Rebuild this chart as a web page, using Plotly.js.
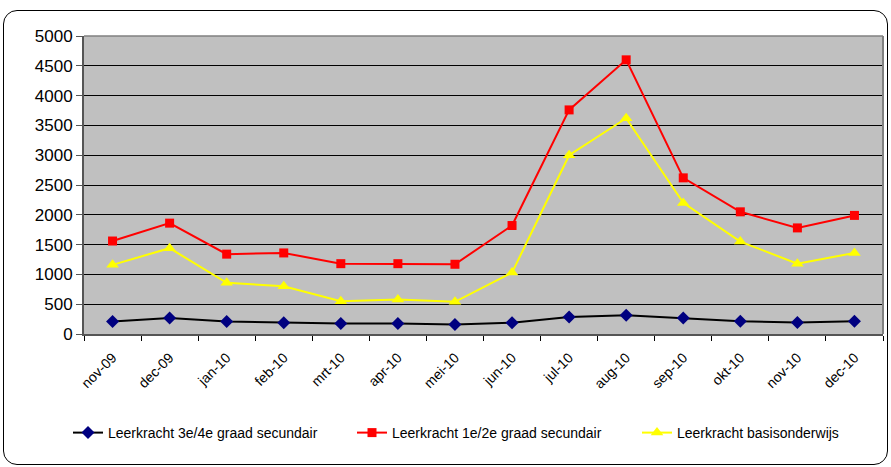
<!DOCTYPE html>
<html><head><meta charset="utf-8">
<script src="https://cdn.plot.ly/plotly-3.0.1.min.js"></script>
<style>
html,body{margin:0;padding:0;background:#fff;}
#wrap{position:relative;width:891px;height:467px;}
#chart{position:absolute;left:0;top:0;width:891px;height:467px;}
#frame{position:absolute;left:3px;top:10px;width:883px;height:453px;border:1.5px solid #000;border-radius:14px;pointer-events:none;}
</style></head>
<body><div id="wrap"><div id="chart"></div><div id="frame"></div></div>
<script>
const months = ["nov-09","dec-09","jan-10","feb-10","mrt-10","apr-10","mei-10","jun-10","jul-10","aug-10","sep-10","okt-10","nov-10","dec-10"];
const graad34 = [210,270,210,190,175,175,160,190,285,315,270,215,195,215];
const graad12 = [1560,1860,1340,1360,1180,1180,1170,1820,3760,4600,2620,2050,1780,1990];
const basis = [1160,1440,860,800,550,580,540,1030,3000,3620,2200,1550,1180,1360];
const names = ["Leerkracht 3e/4e graad secundair","Leerkracht 1e/2e graad secundair","Leerkracht basisonderwijs"];
const yTicks = [0,500,1000,1500,2000,2500,3000,3500,4000,4500,5000];

const traces = [
 {x:months,y:graad34,name:names[0],type:'scatter',mode:'lines+markers',legend:'legend',
  line:{color:'#000000',width:2},marker:{symbol:'diamond',color:'#000080',size:10}},
 {x:months,y:graad12,name:names[1],type:'scatter',mode:'lines+markers',legend:'legend2',
  line:{color:'#FF0000',width:2},marker:{symbol:'square',color:'#FF0000',size:9}},
 {x:months,y:basis,name:names[2],type:'scatter',mode:'lines+markers',legend:'legend3',
  line:{color:'#FFFF00',width:2},marker:{symbol:'triangle-up',color:'#FFFF00',size:11}}
];
const px = v => (v-84)/799;
const ly = (433-334)/-298;
const leg = x => ({orientation:'h',x:px(x),xanchor:'left',y:ly,yanchor:'middle',
   font:{size:14},bgcolor:'rgba(0,0,0,0)',borderwidth:0});
const layout = {
 width:891,height:467,
 margin:{l:84,r:8,t:36,b:133},
 paper_bgcolor:'rgba(0,0,0,0)',plot_bgcolor:'#C0C0C0',
 font:{family:'Liberation Sans, Arial, sans-serif',color:'#000'},
 showlegend:true,
 legend:leg(68), legend2:leg(352), legend3:leg(637),
 xaxis:{type:'category',range:[-0.5,13.5],tickangle:-45,tickfont:{size:14},
   ticks:'outside',ticklen:5,tickson:'boundaries',tickcolor:'#000',ticklabelstandoff:8,
   showline:true,linecolor:'#555',linewidth:2,showgrid:false,mirror:false,fixedrange:true},
 yaxis:{range:[0,5000],tickvals:yTicks,tickfont:{size:17},ticks:'outside',ticklen:6,tickcolor:'#555',
   showline:true,linecolor:'#555',linewidth:2,showgrid:true,gridcolor:'#000',gridwidth:1,
   zeroline:false,fixedrange:true},
 shapes:[{type:'line',xref:'paper',yref:'paper',x0:1,x1:1,y0:0,y1:1,line:{color:'#808080',width:2}},
         {type:'line',xref:'paper',yref:'paper',x0:0,x1:1,y0:1,y1:1,line:{color:'#808080',width:1.5}}]
};
Plotly.newPlot('chart',traces,layout,{displayModeBar:false,staticPlot:true});
</script></body></html>
